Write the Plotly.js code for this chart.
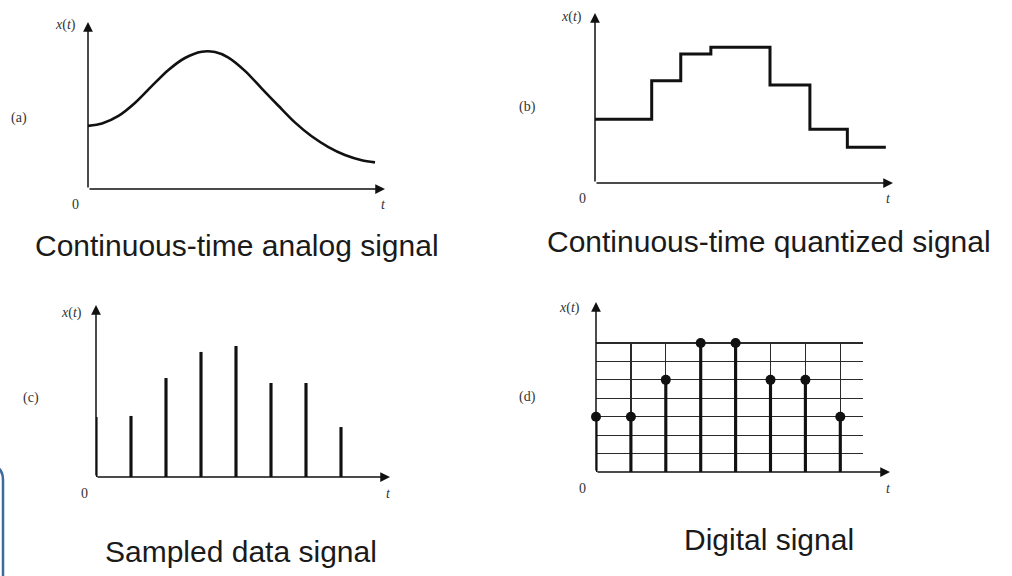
<!DOCTYPE html>
<html><head><meta charset="utf-8">
<script src="https://cdn.plot.ly/plotly-3.0.1.min.js"></script>
<style>html,body{margin:0;padding:0;background:#fff;}#chart{width:1012px;height:576px;}</style>
</head><body><div id="chart"></div>
<script>
// ---- data ----
const analogT = [0, 0.4, 0.87, 1.34, 1.82, 2.29, 2.77, 3.25, 3.63, 4.0, 4.5, 4.96, 5.44, 5.91, 6.39, 6.87, 7.34, 7.82, 8.2];
const analogX = [3.41, 3.54, 3.95, 4.65, 5.56, 6.42, 7.08, 7.42, 7.40, 7.12, 6.36, 5.44, 4.50, 3.60, 2.85, 2.27, 1.84, 1.56, 1.44];
const quantT = [0, 1.62, 2.45, 3.31, 5.0, 6.14, 7.21, 8.31];
const quantX = [3.44, 5.53, 6.97, 7.34, 5.30, 2.90, 1.93, 1.93];
const sampleT = [0, 1, 2, 3, 4, 5, 6, 7];
const sampledX = [3.24, 3.30, 5.35, 6.76, 7.08, 5.08, 5.08, 2.70];
const digitalX = [3, 3, 5, 7, 7, 5, 5, 3];
const levels = [1, 2, 3, 4, 5, 6, 7];
const captions = ["Continuous-time analog signal", "Continuous-time quantized signal", "Sampled data signal", "Digital signal"];
const panelTags = ["(a)", "(b)", "(c)", "(d)"];
const axisLabelY = "<i>x</i>(<i>t</i>)";
const axisLabelX = "<i>t</i>";
const originLabel = "0";

// ---- layout geometry ----
const W = 1012, H = 576;
const fx = p => p / W, fy = p => 1 - p / H;
const INK = '#111';
// panels: origin px, x arrow end, y arrow top, px per unit
const panels = [
  {ox: 88,  oy: 189, xe: 385, yt: 22,  ux: 35,   uy: 18.5},
  {ox: 595, oy: 183, xe: 893, yt: 13,  ux: 35,   uy: 18.5},
  {ox: 96,  oy: 477, xe: 390, yt: 305, ux: 35,   uy: 18.5},
  {ox: 596, oy: 472, xe: 890, yt: 302, ux: 34.9, uy: 18.43}
];
const gridEndPx = 863;

const layout = {
  width: W, height: H, margin: {l: 0, r: 0, t: 0, b: 0},
  paper_bgcolor: '#fff', plot_bgcolor: 'rgba(0,0,0,0)',
  showlegend: false, annotations: [], shapes: []
};
panels.forEach((p, i) => {
  const n = i + 1;
  const xr = (p.xe + 4 - p.ox) / p.ux, yr = (p.oy - (p.yt - 4)) / p.uy;
  layout['xaxis' + n] = {domain: [fx(p.ox), fx(p.xe + 4)], range: [0, xr], visible: false, fixedrange: true, anchor: 'y' + n};
  layout['yaxis' + n] = {domain: [fy(p.oy), fy(p.yt - 4)], range: [0, yr], visible: false, fixedrange: true, anchor: 'x' + n};
  const xs = n === 1 ? 'x' : 'x' + n, ys = n === 1 ? 'y' : 'y' + n;
  const arrow = {xref: xs, yref: ys, axref: xs, ayref: ys, ax: 0, ay: 0, text: '', showarrow: true,
                 arrowhead: 2, arrowsize: 1.3, arrowwidth: 1.5, arrowcolor: INK, standoff: 0};
  layout.annotations.push(Object.assign({}, arrow, {x: (p.xe - p.ox) / p.ux, y: 0}));
  layout.annotations.push(Object.assign({}, arrow, {x: 0, y: (p.oy - p.yt) / p.uy}));
});
// grid axes for the digital panel (range padded slightly so the top level line is drawn)
const pd = panels[3];
const topLevel = levels[levels.length - 1];
const yPad = 0.06;
layout.xaxis5 = {domain: [fx(pd.ox), fx(gridEndPx)], range: [0, (gridEndPx - pd.ox) / pd.ux], anchor: 'y5',
  showticklabels: false, ticks: '', showline: false, zeroline: false, showgrid: true,
  tickvals: sampleT.slice(1), gridcolor: '#2a2a2a', gridwidth: 1.2, fixedrange: true};
layout.yaxis5 = {domain: [fy(pd.oy), fy(pd.oy - (topLevel + yPad) * pd.uy)], range: [0, topLevel + yPad], anchor: 'x5',
  showticklabels: false, ticks: '', showline: false, zeroline: false, showgrid: true,
  tickvals: levels, gridcolor: '#2a2a2a', gridwidth: 1.2, fixedrange: true};

// text labels
const small = {family: 'Liberation Serif, serif', size: 14, color: '#333'};
const cap = {family: 'Liberation Sans, Arial, sans-serif', size: 30, color: '#1a1a1a'};
const txt = (s, px, py, font) => ({text: s, x: fx(px), y: fy(py), xref: 'paper', yref: 'paper',
  xanchor: 'center', yanchor: 'middle', showarrow: false, font: font});
const labelPos = [
  {yl: [65, 25], tag: [19, 118], zero: [75, 204], t: [383, 204], cap: [237, 246]},
  {yl: [571, 17], tag: [527, 107], zero: [582, 198], t: [888, 198], cap: [769, 242]},
  {yl: [71, 313], tag: [31, 398], zero: [84, 493], t: [388, 493], cap: [241, 551]},
  {yl: [569, 308], tag: [527, 397], zero: [582, 488], t: [888, 488], cap: [769, 539]}
];
labelPos.forEach((q, i) => {
  layout.annotations.push(txt(axisLabelY, q.yl[0], q.yl[1], small));
  layout.annotations.push(txt(panelTags[i], q.tag[0], q.tag[1], small));
  layout.annotations.push(txt(originLabel, q.zero[0], q.zero[1], small));
  layout.annotations.push(txt(axisLabelX, q.t[0], q.t[1], small));
  layout.annotations.push(txt(captions[i], q.cap[0], q.cap[1], cap));
});

// partial rounded frame at the left edge
layout.shapes.push({type: 'path', xref: 'paper', yref: 'paper',
  path: `M ${fx(-12)} ${fy(465)} Q ${fx(3)} ${fy(465)} ${fx(3)} ${fy(480)} L ${fx(3)} ${fy(590)}`,
  line: {color: '#3d6c9c', width: 2.5}});

const traces = [
  {type: 'scatter', mode: 'lines', x: analogT, y: analogX, xaxis: 'x', yaxis: 'y',
   line: {color: INK, width: 2.6, shape: 'spline', smoothing: 0.8}, hoverinfo: 'skip'},
  {type: 'scatter', mode: 'lines', x: quantT, y: quantX, xaxis: 'x2', yaxis: 'y2',
   line: {color: INK, width: 3, shape: 'hv'}, hoverinfo: 'skip'},
  {type: 'bar', x: sampleT, y: sampledX, xaxis: 'x3', yaxis: 'y3', width: 0.09,
   marker: {color: INK, line: {width: 0}}, hoverinfo: 'skip'},
  {type: 'scatter', x: [], y: [], xaxis: 'x4', yaxis: 'y4', hoverinfo: 'skip'},
  {type: 'bar', x: sampleT, y: digitalX, xaxis: 'x5', yaxis: 'y5', width: 0.09,
   marker: {color: INK, line: {width: 0}}, hoverinfo: 'skip'},
  {type: 'scatter', mode: 'markers', x: sampleT, y: digitalX, xaxis: 'x5', yaxis: 'y5', cliponaxis: false,
   marker: {color: INK, size: 10}, hoverinfo: 'skip'}
];
Plotly.newPlot('chart', traces, layout, {staticPlot: true});
</script></body></html>
